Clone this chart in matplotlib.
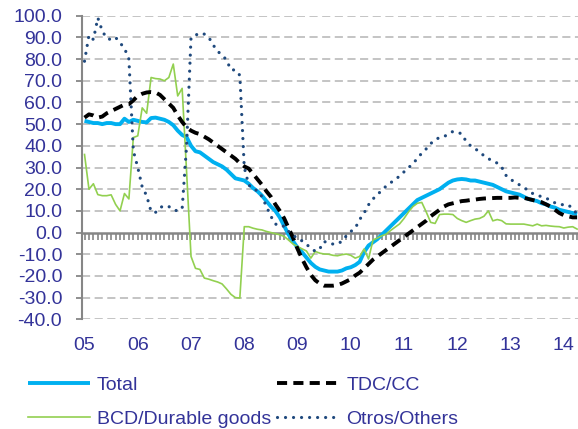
import matplotlib
matplotlib.use("Agg")
import matplotlib.pyplot as plt
import numpy as np

plt.rcParams['font.family'] = ['Liberation Sans', 'DejaVu Sans']

# Monthly data, Jan 2005 .. Apr 2014 (year-on-year growth, %)
year_labels = ['05', '06', '07', '08', '09', '10', '11', '12', '13', '14']

total = [51.5, 51, 50.5, 50.5, 50, 50.5, 50.5, 50, 50, 52.5,
         51, 52, 51.5, 51, 50.8, 52.8, 53, 52.5, 52, 51,
         49.5, 47, 45, 44, 40, 37.5, 37, 35.5, 34, 32.5,
         31.5, 30.5, 29, 27, 25, 24.5, 24, 22.5, 20.5, 19,
         17, 14.5, 12, 10, 7, 3, -1, -4, -7, -9,
         -11.5, -14, -15.8, -17, -17.5, -18, -18, -18, -17.5, -16.5,
         -16, -15, -13.5, -9, -6, -4.5, -3, -1, 1, 3,
         5, 7, 9, 11, 13, 15, 16, 17, 18, 19,
         20, 21.5, 23, 24, 24.5, 24.7, 24.5, 24, 24, 23.5,
         23, 22.5, 22, 21, 20, 19, 18.5, 18, 17.5, 16.5,
         15.5, 15, 14.5, 13.5, 13, 12, 11.5, 10.5, 10, 9.5,
         9, 8.5]

tdc = [53, 54.5, 54, 53, 53.5, 55, 56, 57, 58, 59,
       59.2, 61, 63, 64, 64.6, 64.8, 64.6, 63.5, 61.5, 59.5,
       57.5, 54, 51, 48.5, 47, 46, 45.4, 44.2, 43, 41.5,
       40, 38.5, 37, 35.5, 34, 32, 30.5, 29.5, 27, 24.5,
       22, 19, 16.5, 13, 10, 6.5, 2, -2.5, -7.5, -12,
       -16, -19.5, -22, -23.5, -24.5, -24.5, -24.5, -24.2, -23.5, -22.5,
       -21.5, -19.8, -18.5, -16.5, -14.5, -12.5, -11, -9.5, -8, -6.5,
       -5, -3.5, -2, -0.5, 1, 2.5, 4, 5.5, 7.5, 9,
       10.5, 12, 13, 13.5, 14, 14.5, 14.7, 15, 15.2, 15.5,
       15.7, 15.8, 15.9, 16, 16, 16, 16, 16.2, 16, 16,
       15.5, 15, 14.5, 14, 13, 12, 10.5, 9, 8, 7.5,
       7, 7]

bcd = [36, 20, 22.5, 17.5, 17, 17, 17.4, 13, 10, 18,
       15.5, 43.8, 44.6, 57.5, 55, 71.5, 71, 70.8, 70, 71.5,
       77.7, 63, 66.5, 28, -11, -16.5, -17, -21, -21.5, -22.2,
       -22.8, -23.7, -26, -28.5, -30, -30.2, 2.7, 2.7, 2, 1.5,
       1.2, 0.5, 0, -0.5, -1, -1.8, -3.5, -5.3, -6.5, -7.5,
       -8.5, -11.8, -8.7, -9.5, -9.9, -10, -10.5, -10.7, -10.2, -9.9,
       -10.5, -11.8, -11, -7.6, -12.2, -3.5, -2.5, -1.5, -0.7, 1,
       2.5, 4, 6.5, 9.5, 12, 13.5, 13.9, 9.5, 4.7, 4.2,
       8.3, 8.5, 8.5, 8.3, 6.5, 5.5, 4.7, 5.5, 6.2, 6.5,
       7.5, 10, 5.4, 6, 5.5, 4, 3.9, 3.9, 3.9, 3.9,
       3.5, 3.1, 3.9, 3.1, 3.3, 3, 2.8, 2.7, 2.1, 2.5,
       2.7, 1.6]

otros = [79, 91, 89, 99, 93, 89.5, 89, 90, 87.5, 85,
         80, 37.7, 30, 21, 17, 9.7, 9.3, 11.5, 12.4, 12,
         10.5, 10, 11, 40, 90, 91, 92, 91.5, 90, 86.5,
         83.5, 82, 79.5, 75, 75, 72.5, 30, 22, 20, 19.3,
         16.5, 12, 7.5, 4, 2.8, 3, 0.5, -1, -3, -3.8,
         -5.5, -7, -8.7, -7.5, -4.1, -5, -5.3, -5.3, -4, -1.5,
         0.5, 2, 6, 9, 12.8, 15.5, 17.5, 19.5, 21.5, 23,
         24.5, 26, 28, 29.8, 32, 34, 36.7, 38.6, 41, 42.8,
         43.8, 44.2, 45.5, 46.6, 46.3, 45.5, 42, 40, 38.8, 37,
         35.5, 34, 33.2, 32, 30.2, 26.3, 24.5, 23.3, 22, 20.7,
         19.5, 18, 17.3, 16.5, 15.9, 14.8, 13.7, 13, 12.8, 12.8,
         11, 8.5]

labels = ['Total', 'TDC/CC', 'BCD/Durable goods', 'Otros/Others']

months = np.arange(len(total))
text_color = '#333399'
grid_color = '#BFBFBF'
axis_color = '#868686'

fig = plt.figure(figsize=(5.78, 4.29), dpi=100)
ax = fig.add_axes([82.3 / 578, 1 - 319.3 / 429, 1 - 82.3 / 578, (319.3 - 15.7) / 429])

# grid
for v in range(-40, 101, 10):
    if v != 0:
        ax.axhline(v, color=grid_color, lw=1.3, ls=(0, (4.5, 2.5)), zorder=1)

l_total, = ax.plot(months, total, color='#00B0F0', lw=2.8, solid_capstyle='butt', zorder=3)
l_tdc, = ax.plot(months, tdc, color='black', lw=2.8, ls=(0, (2.6, 1.6)), zorder=4)
l_bcd, = ax.plot(months, bcd, color='#92D050', lw=1.2, zorder=3)
l_otros, = ax.plot(months, otros, color='#1F497D', lw=2.3, ls=(0, (0.01, 2.5)),
                   dash_capstyle='round', zorder=4)

ax.set_xlim(-0.5, 111.2)
ax.set_ylim(-40, 100)

for s in ['top', 'right', 'bottom']:
    ax.spines[s].set_visible(False)
ax.spines['left'].set_color(axis_color)
ax.spines['left'].set_linewidth(1.5)

ax.set_yticks(range(-40, 101, 10))
ax.set_yticklabels([f'{v:.1f}' for v in range(-40, 101, 10)])
ax.tick_params(axis='y', direction='out', length=4.5, width=1.3, color=axis_color,
               labelcolor=text_color, labelsize=14, pad=10)

# year labels at the bottom
ax.set_xticks(np.arange(0, len(total), 12)[:len(year_labels)])
ax.set_xticklabels(year_labels)
ax.tick_params(axis='x', length=0, pad=13, labelcolor=text_color, labelsize=14)

# category axis crossing at zero with monthly ticks
zax = ax.secondary_xaxis(0, transform=ax.transData)
zax.set_xticks(months)
zax.set_xticklabels([])
zax.tick_params(axis='x', direction='out', length=5, width=1.2, color=axis_color)
zax.spines['bottom'].set_color(axis_color)
zax.spines['bottom'].set_linewidth(1.8)

fig.legend([l_total, l_bcd, l_tdc, l_otros],
           [labels[0], labels[2], labels[1], labels[3]],
           ncol=2, loc='upper left', bbox_to_anchor=(28 / 578, 1 - 376 / 429),
           frameon=False, fontsize=14, labelcolor=text_color,
           handlelength=3.2, handletextpad=0.35, columnspacing=0.3,
           labelspacing=0.85, borderpad=0, borderaxespad=0)

fig.savefig('out.png', dpi=100)
